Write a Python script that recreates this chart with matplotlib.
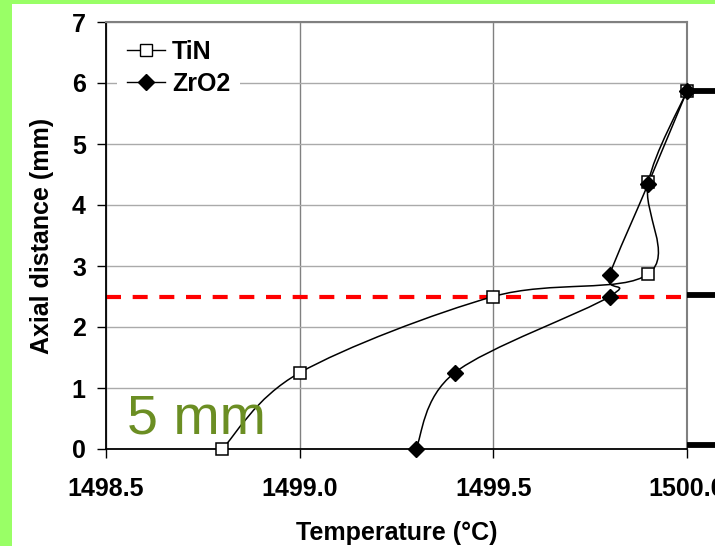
import numpy as np
import matplotlib
matplotlib.use('Agg')
import matplotlib.pyplot as plt
from matplotlib.path import Path
from matplotlib.patches import PathPatch, Rectangle

plt.rcParams['font.family'] = ['Liberation Sans', 'DejaVu Sans']

# data
tin_temp = [1498.8, 1499.0, 1499.5, 1499.9, 1499.9, 1500.0]
tin_dist = [0.0, 1.25, 2.5, 2.87, 4.37, 5.87]
zro2_temp = [1499.3, 1499.4, 1499.8, 1499.8, 1499.9, 1500.0]
zro2_dist = [0.0, 1.25, 2.5, 2.85, 4.35, 5.87]
cut_level = 2.5
side_marks = [0.07, 2.52, 5.87]
x_ticks = [1498.5, 1499.0, 1499.5, 1500.0]
y_ticks = [0, 1, 2, 3, 4, 5, 6, 7]


def smooth_path(xs, ys):
    # Excel-like smoothed line: cubic Bezier with Catmull-Rom tangents
    p = np.column_stack([xs, ys]).astype(float)
    n = len(p)
    verts = [p[0]]
    codes = [Path.MOVETO]
    for i in range(n - 1):
        p0 = p[max(i - 1, 0)]
        p1 = p[i]
        p2 = p[i + 1]
        p3 = p[min(i + 2, n - 1)]
        c1 = p1 + (p2 - p0) / 6.0
        c2 = p2 - (p3 - p1) / 6.0
        verts += [c1, c2, p2]
        codes += [Path.CURVE4] * 3
    return Path(verts, codes)


fig = plt.figure(figsize=(7.15, 5.46), dpi=100)
fig.patch.set_facecolor('#99ff66')
fig.add_artist(Rectangle((12 / 715, 0), 1, 542 / 546, transform=fig.transFigure,
                         facecolor='white', edgecolor='none', zorder=-10))

ax = fig.add_axes([106 / 715, 97 / 546, 581 / 715, 427 / 546])
ax.set_zorder(1)
ax.set_xlim(1498.5, 1500.0)
ax.set_ylim(0, 7)

for xs, ys in [(tin_temp, tin_dist), (zro2_temp, zro2_dist)]:
    ax.add_patch(PathPatch(smooth_path(xs, ys), facecolor='none', edgecolor='black',
                           lw=1.1, zorder=3))

ax.axhline(cut_level, color='#ff0000', lw=3, dashes=(3.6, 2.8), zorder=2.5)

ax.plot(tin_temp, tin_dist, ls='none', marker='s', ms=8, mfc='white', mec='black',
        mew=1.1, zorder=4, clip_on=False)
ax.plot(zro2_temp, zro2_dist, ls='none', marker='D', ms=8, mfc='black', mec='black',
        zorder=4, clip_on=False)

# legend proxies
ax.plot([], [], color='black', lw=1, marker='s', ms=8, mfc='white', mec='black',
        label='TiN')
ax.plot([], [], color='black', lw=1, marker='D', ms=8, mfc='black', mec='black',
        label='ZrO2')

for y in side_marks:
    ax.plot([1500.0, 1500.2], [y, y], color='black', lw=4.2, solid_capstyle='butt',
            clip_on=False, zorder=5)

ax.text(1498.555, 0.25, '5 mm', fontsize=40, color='#6b8e23', zorder=6)

ax.set_xticks(x_ticks)
ax.set_xticklabels([f'{v:.1f}' for v in x_ticks])
ax.set_yticks(y_ticks)
ax.tick_params(axis='both', direction='out', length=6.5, width=1, labelsize=18)
ax.tick_params(axis='x', pad=14)
ax.tick_params(axis='y', pad=8)
for lab in ax.get_xticklabels() + ax.get_yticklabels():
    lab.set_fontweight('bold')

ax.xaxis.grid(True, color='#808080', lw=1)
ax.yaxis.grid(True, color='#aaaaaa', lw=1)
ax.set_axisbelow(True)

for side in ['top', 'right']:
    ax.spines[side].set_color('#808080')
    ax.spines[side].set_linewidth(1.5)
for side in ['left', 'bottom']:
    ax.spines[side].set_color('black')
    ax.spines[side].set_linewidth(1.3)

ax.set_xlabel('Temperature (°C)', fontsize=18, fontweight='bold', labelpad=14)
ax.set_ylabel('Axial distance (mm)', fontsize=18, fontweight='bold', labelpad=13)

leg = ax.legend(loc='upper left', bbox_to_anchor=(0.019, 0.981), borderaxespad=0,
                handlelength=1.5, handletextpad=0.3, labelspacing=0.3,
                prop={'weight': 'bold', 'size': 18}, fancybox=False,
                framealpha=1, facecolor='white', edgecolor='none')
leg.set_zorder(6)

fig.savefig('out.png', dpi=100, facecolor=fig.get_facecolor())
